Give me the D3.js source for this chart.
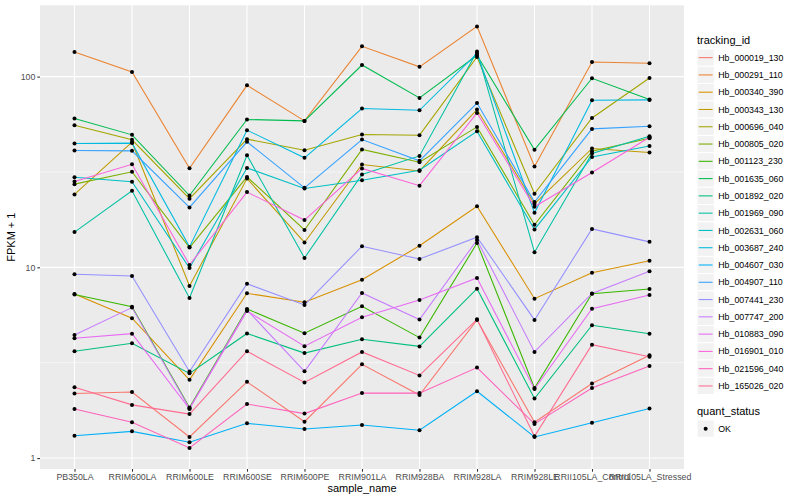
<!DOCTYPE html>
<html>
<head>
<meta charset="utf-8">
<script src="https://cdn.jsdelivr.net/npm/d3@7"></script>
<style>
  body { margin: 0; background: #fff; }
  svg { font-family: "Liberation Sans", Arial, sans-serif; }
</style>
</head>
<body>
<div id="chart"></div>
<script>
// sample names on the x axis
const samples = ["PB350LA", "RRIM600LA", "RRIM600LE", "RRIM600SE", "RRIM600PE",
  "RRIM901LA", "RRIM928BA", "RRIM928LA", "RRIM928LE", "RRII105LA_Control", "RRII105LA_Stressed"];

const trackingIds = ["Hb_000019_130", "Hb_000291_110", "Hb_000340_390", "Hb_000343_130",
  "Hb_000696_040", "Hb_000805_020", "Hb_001123_230", "Hb_001635_060", "Hb_001892_020",
  "Hb_001969_090", "Hb_002631_060", "Hb_003687_240", "Hb_004607_030", "Hb_004907_110",
  "Hb_007441_230", "Hb_007747_200", "Hb_010883_090", "Hb_016901_010", "Hb_021596_040",
  "Hb_165026_020"];

// FPKM + 1 per gene, in sample order
const hb000019_130 = [2.18, 2.22, 1.29, 2.51, 1.55, 3.10, 2.14, 5.30, 1.54, 2.46, 3.46];
const hb000291_110 = [134.5, 105.7, 33.1, 90.0, 58.6, 144.1, 112.5, 183.4, 33.8, 119.2, 117.4];
const hb000340_390 = [7.25, 5.41, 2.57, 7.31, 6.56, 8.61, 12.97, 20.9, 6.85, 9.37, 10.83];
const hb000343_130 = [24.1, 45.3, 7.98, 29.2, 13.5, 34.6, 32.0, 67.2, 21.5, 42.0, 40.0];
const hb000696_040 = [55.6, 46.6, 22.9, 47.0, 41.1, 49.7, 49.3, 126.7, 24.3, 60.7, 98.4];
const hb000805_020 = [27.3, 31.7, 12.7, 29.8, 15.7, 41.5, 35.6, 54.5, 16.7, 40.6, 47.5];
const hb001123_230 = [7.2, 6.22, 1.84, 6.05, 4.51, 6.25, 4.28, 13.4, 2.33, 7.27, 7.70];
const hb001635_060 = [60.3, 49.5, 23.8, 59.6, 58.6, 115.0, 77.3, 129.3, 41.3, 98.0, 75.8];
const hb001892_020 = [3.63, 4.00, 2.78, 4.50, 3.55, 4.20, 3.85, 7.73, 2.05, 4.97, 4.48];
const hb001969_090 = [15.3, 25.2, 6.91, 38.7, 11.2, 30.7, 38.4, 135.6, 12.0, 39.5, 48.7];
const hb002631_060 = [29.7, 28.1, 9.92, 33.2, 25.9, 28.6, 32.3, 51.7, 15.8, 37.9, 43.3];
const hb003687_240 = [44.6, 44.8, 12.8, 52.4, 37.5, 68.0, 66.6, 132.4, 19.3, 75.2, 75.5];
const hb004607_030 = [1.31, 1.38, 1.21, 1.52, 1.42, 1.49, 1.40, 2.24, 1.29, 1.53, 1.82];
const hb004907_110 = [41.0, 40.8, 20.6, 45.5, 26.1, 46.8, 36.2, 72.7, 22.0, 53.2, 54.9];
const hb007441_230 = [9.19, 9.00, 2.84, 8.20, 6.35, 12.9, 11.05, 14.4, 5.30, 15.9, 13.6];
const hb007747_200 = [4.42, 6.15, 1.82, 5.98, 2.85, 7.34, 5.32, 13.9, 3.60, 7.30, 9.53];
const hb010883_090 = [4.25, 4.49, 1.81, 5.90, 3.86, 5.47, 6.74, 8.79, 2.30, 6.07, 7.16];
const hb016901_010 = [28.2, 34.7, 10.3, 24.8, 17.7, 33.0, 26.8, 64.5, 20.8, 31.4, 48.1];
const hb021596_040 = [1.81, 1.54, 1.13, 1.92, 1.71, 2.19, 2.19, 2.98, 1.51, 2.33, 3.04];
const hb165026_020 = [2.35, 1.90, 1.70, 3.63, 2.49, 3.60, 2.71, 5.34, 1.30, 3.93, 3.40];

const fpkmValues = [hb000019_130, hb000291_110, hb000340_390, hb000343_130, hb000696_040,
  hb000805_020, hb001123_230, hb001635_060, hb001892_020, hb001969_090, hb002631_060,
  hb003687_240, hb004607_030, hb004907_110, hb007441_230, hb007747_200, hb010883_090,
  hb016901_010, hb021596_040, hb165026_020];

const yTicks = [1, 10, 100];
const yMinor = [Math.sqrt(10), Math.sqrt(1000)];

// ggplot hue palette, 20 levels
const palette = ["#F8766D", "#EA8331", "#D89000", "#C09B00", "#A3A500", "#7CAE00", "#39B600",
  "#00BB4E", "#00BF7D", "#00C1A3", "#00BFC4", "#00BAE0", "#00B0F6", "#35A2FF", "#9590FF",
  "#C77CFF", "#E76BF3", "#FA62DB", "#FF62BC", "#FF6C91"];

const series = trackingIds.map((id, i) => ({
  id: id,
  points: samples.map((s, j) => ({ sample: s, value: fpkmValues[i][j] }))
}));

const width = 800, height = 500;
const panel = { left: 40, right: 684, top: 5.3, bottom: 469 };

const svg = d3.select("#chart").append("svg")
  .attr("width", width)
  .attr("height", height);

const x = d3.scalePoint()
  .domain(samples)
  .range([panel.left, panel.right])
  .padding(0.6);

// log range with ggplot's 5% expansion
const allValues = fpkmValues.flat();
const lo = Math.log10(d3.min(allValues)), hi = Math.log10(d3.max(allValues));
const pad = (hi - lo) * 0.05;
const y = d3.scaleLog()
  .domain([Math.pow(10, lo - pad), Math.pow(10, hi + pad)])
  .range([panel.bottom, panel.top]);

// panel background
svg.append("rect")
  .attr("x", panel.left).attr("y", panel.top)
  .attr("width", panel.right - panel.left)
  .attr("height", panel.bottom - panel.top)
  .attr("fill", "#EBEBEB");

const grid = svg.append("g");
grid.selectAll("line.minor")
  .data(yMinor)
  .enter().append("line")
  .attr("x1", panel.left).attr("x2", panel.right)
  .attr("y1", d => y(d)).attr("y2", d => y(d))
  .attr("stroke", "#fff").attr("stroke-width", 0.55);
grid.selectAll("line.major")
  .data(yTicks)
  .enter().append("line")
  .attr("x1", panel.left).attr("x2", panel.right)
  .attr("y1", d => y(d)).attr("y2", d => y(d))
  .attr("stroke", "#fff").attr("stroke-width", 1.1);
grid.selectAll("line.vert")
  .data(samples)
  .enter().append("line")
  .attr("x1", d => x(d)).attr("x2", d => x(d))
  .attr("y1", panel.top).attr("y2", panel.bottom)
  .attr("stroke", "#fff").attr("stroke-width", 1.1);

// lines
const line = d3.line()
  .x(d => x(d.sample))
  .y(d => y(d.value));

svg.append("g")
  .selectAll("path")
  .data(series)
  .enter().append("path")
  .attr("d", d => line(d.points))
  .attr("fill", "none")
  .attr("stroke", (d, i) => palette[i])
  .attr("stroke-width", 1.07);

// points
svg.append("g")
  .selectAll("circle")
  .data(series.flatMap(s => s.points))
  .enter().append("circle")
  .attr("cx", d => x(d.sample))
  .attr("cy", d => y(d.value))
  .attr("r", 2)
  .attr("fill", "#000");

// axes
const xAxis = svg.append("g")
  .attr("transform", `translate(0,${panel.bottom})`)
  .call(d3.axisBottom(x).tickSize(2.7).tickPadding(2));
const yAxis = svg.append("g")
  .attr("transform", `translate(${panel.left},0)`)
  .call(d3.axisLeft(y).tickValues(yTicks).tickFormat(d3.format("d")).tickSize(2.7).tickPadding(2));

[xAxis, yAxis].forEach(a => {
  a.select(".domain").remove();
  a.selectAll(".tick line").attr("stroke", "#333333").attr("stroke-width", 1.07);
  a.selectAll(".tick text")
    .attr("fill", "#4D4D4D")
    .style("font-size", "8.8px")
    .style("font-family", "'Liberation Sans', Arial, sans-serif");
});

svg.append("text")
  .attr("x", (panel.left + panel.right) / 2)
  .attr("y", 492)
  .attr("text-anchor", "middle")
  .style("font-size", "11px")
  .text("sample_name");

svg.append("text")
  .attr("transform", `translate(15,${(panel.top + panel.bottom) / 2}) rotate(-90)`)
  .attr("text-anchor", "middle")
  .style("font-size", "11px")
  .text("FPKM + 1");

// legend
const legend = svg.append("g").attr("transform", "translate(697,0)");
legend.append("text")
  .attr("x", 0).attr("y", 44)
  .style("font-size", "11px")
  .text("tracking_id");

const keySize = 17.28;
const keys = legend.selectAll("g.key")
  .data(trackingIds)
  .enter().append("g")
  .attr("transform", (d, i) => `translate(0,${49 + i * keySize})`);
keys.append("rect")
  .attr("width", keySize).attr("height", keySize)
  .attr("fill", "#F2F2F2")
  .attr("stroke", "#fff").attr("stroke-width", 1);
keys.append("line")
  .attr("x1", 1.7).attr("x2", keySize - 1.7)
  .attr("y1", keySize / 2).attr("y2", keySize / 2)
  .attr("stroke", (d, i) => palette[i])
  .attr("stroke-width", 1.07);
keys.append("text")
  .attr("x", keySize + 4)
  .attr("y", keySize / 2)
  .attr("dy", "0.35em")
  .style("font-size", "8.8px")
  .text(d => d);

legend.append("text")
  .attr("x", 0).attr("y", 415)
  .style("font-size", "11px")
  .text("quant_status");
const okKey = legend.append("g").attr("transform", "translate(0,420)");
okKey.append("rect")
  .attr("width", keySize).attr("height", keySize)
  .attr("fill", "#F2F2F2")
  .attr("stroke", "#fff");
okKey.append("circle")
  .attr("cx", keySize / 2).attr("cy", keySize / 2)
  .attr("r", 2).attr("fill", "#000");
okKey.append("text")
  .attr("x", keySize + 4)
  .attr("y", keySize / 2)
  .attr("dy", "0.35em")
  .style("font-size", "8.8px")
  .text("OK");
</script>
</body>
</html>
